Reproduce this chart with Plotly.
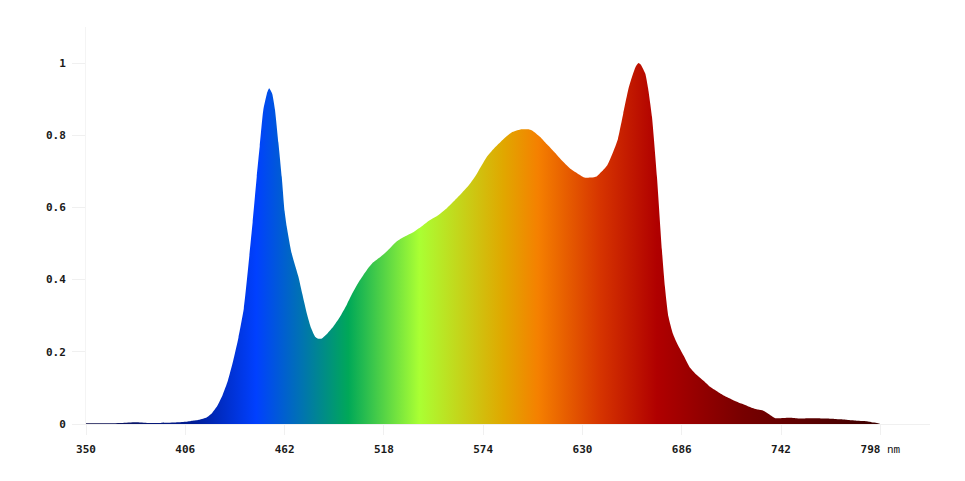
import plotly.graph_objects as go

wavelength = [350, 360, 370, 378, 385, 392, 400, 406, 410, 414, 418, 421, 424, 427, 430, 433, 436,
              439, 442, 444, 446.3, 448, 450, 452, 453.3, 455, 456.6, 458.5, 460.4, 462, 463.2,
              466, 469.8, 472, 474.5, 477, 479.2, 481, 483, 486, 489.5, 493, 497, 500, 504, 508.4,
              512, 516, 520, 525, 530, 535, 540, 544, 549, 553.5, 558, 562, 566, 570, 576, 581,
              585.5, 590, 595, 600, 602, 606, 610, 614, 618, 623, 627, 631, 635, 638, 641, 644,
              647, 650, 653, 656, 658, 660, 661.6, 663, 665.4, 667, 669.2, 672, 674.8, 676.5,
              678.5, 681, 683.3, 687, 690.8, 694, 698.3, 702, 706, 710, 715, 720, 725, 729, 732,
              735, 738.8, 742, 747, 752, 757, 762, 767, 772, 776, 780, 785, 789, 793, 796, 798]
intensity = [0.002, 0.002, 0.003, 0.005, 0.003, 0.003, 0.004, 0.006, 0.009, 0.012, 0.018, 0.03,
             0.05, 0.08, 0.12, 0.175, 0.24, 0.32, 0.46, 0.56, 0.685, 0.77, 0.87, 0.915, 0.93,
             0.915, 0.87, 0.78, 0.685, 0.59, 0.547, 0.473, 0.408, 0.36, 0.307, 0.265, 0.242,
             0.236, 0.237, 0.25, 0.27, 0.295, 0.33, 0.36, 0.395, 0.427, 0.448, 0.463, 0.48,
             0.505, 0.52, 0.533, 0.55, 0.565, 0.58, 0.598, 0.62, 0.64, 0.662, 0.69, 0.74, 0.768,
             0.79, 0.808, 0.816, 0.816, 0.812, 0.796, 0.775, 0.754, 0.732, 0.708, 0.695, 0.683,
             0.683, 0.686, 0.7, 0.717, 0.75, 0.79, 0.86, 0.93, 0.963, 0.99, 1.0, 0.995, 0.971,
             0.93, 0.851, 0.685, 0.482, 0.38, 0.297, 0.25, 0.224, 0.19, 0.155, 0.138, 0.12, 0.103,
             0.09, 0.078, 0.066, 0.056, 0.046, 0.04, 0.037, 0.028, 0.016, 0.016, 0.017, 0.015,
             0.016, 0.016, 0.015, 0.014, 0.013, 0.011, 0.009, 0.008, 0.005, 0.003, 0.0]

x_ticks = [350, 406, 462, 518, 574, 630, 686, 742, 798]
x_tick_text = ["350", "406", "462", "518", "574", "630", "686", "742",
               "798 <span style='font-family:Liberation Mono;font-weight:normal;fill:#111'>nm</span>"]
y_ticks = [0, 0.2, 0.4, 0.6, 0.8, 1]
y_tick_text = ["0", "0.2", "0.4", "0.6", "0.8", "1"]

# spectrum gradient stops (wavelength in nm, colour)
grad_nm = [350, 410, 446, 472, 498, 538, 585, 605, 640, 672, 720, 800]
grad_col = ["#101048", "#001c94", "#0040ff", "#0074b0", "#00a858", "#aaff33",
            "#e0a800", "#f58000", "#d63400", "#b00000", "#780000", "#3a0000"]

lo, hi = grad_nm[0], grad_nm[-1]
colorscale = [[(w - lo) / (hi - lo), c] for w, c in zip(grad_nm, grad_col)]

fig = go.Figure()
fig.add_trace(go.Scatter(
    x=wavelength, y=intensity, mode="lines", fill="tozeroy",
    line=dict(width=0, color="rgba(0,0,0,0)", shape="spline", smoothing=0.5),
    fillgradient=dict(type="horizontal", colorscale=colorscale, start=lo, stop=hi),
    hoverinfo="x+y", showlegend=False,
))

tick_font = dict(family="DejaVu Sans Mono", size=11, color="#1a1a1a", weight="bold")

fig.update_layout(
    width=949, height=465,
    margin=dict(l=78, r=27, t=19, b=49),
    paper_bgcolor="white", plot_bgcolor="white",
    xaxis=dict(
        range=[350, 826], tickmode="array", tickvals=x_ticks, ticktext=x_tick_text,
        showgrid=False, zeroline=False, showline=True, linecolor="#f0f0f0", linewidth=1,
        ticks="outside", ticklen=10, tickcolor="#f0f0f0", tickfont=tick_font,
        ticklabelstandoff=5,
    ),
    yaxis=dict(
        range=[0, 1.1], tickmode="array", tickvals=y_ticks, ticktext=y_tick_text,
        showgrid=False, zeroline=False, showline=True, linecolor="#f4f4f4", linewidth=1,
        ticks="outside", ticklen=13, tickcolor="#f0f0f0", tickfont=tick_font,
        ticklabelstandoff=4,
    ),
)

fig.write_html("out.html")
